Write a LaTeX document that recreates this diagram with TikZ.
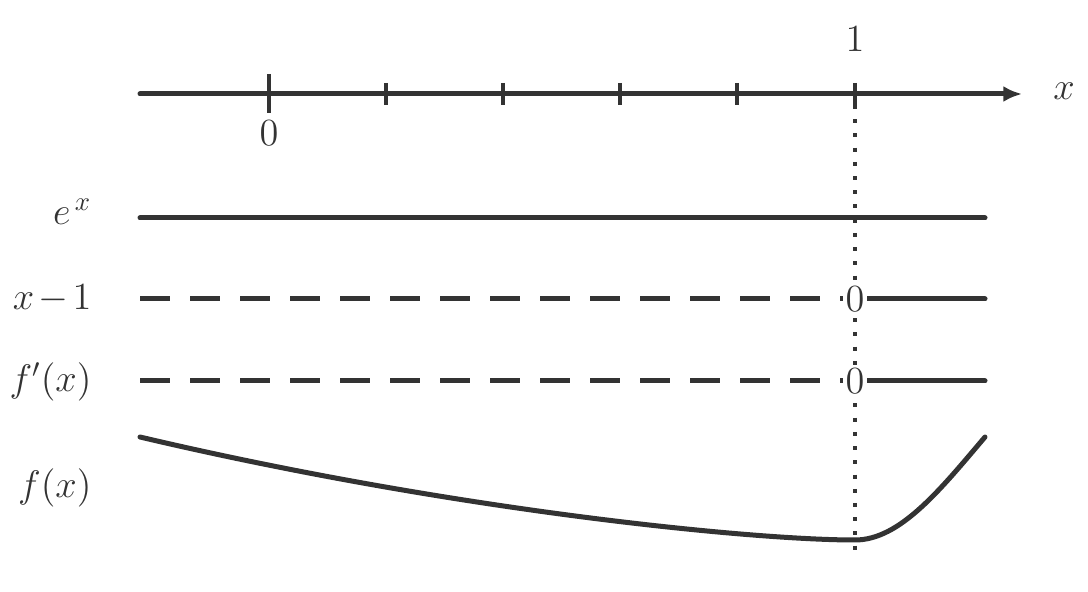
\documentclass[tikz,border=0pt]{standalone}
\usetikzlibrary{arrows.meta}
\definecolor{ink}{RGB}{51,51,51}
\begin{document}
\begin{tikzpicture}[x=0.375pt,y=-0.375pt,
  every node/.style={text=ink,font=\fontsize{14}{17}\selectfont},
  thick line/.style={draw=ink,line width=1.875pt,line cap=round},
  dash line/.style={draw=ink,line width=1.875pt,line cap=butt,dash pattern=on 11.25pt off 7.5pt},
  tickmark/.style={draw=ink,line width=1.8pt,line cap=butt},
  dot line/.style={draw=ink,line width=1.5pt,line cap=butt,dash pattern=on 1.5pt off 3.83pt},
  zero/.style={fill=white,inner xsep=1pt,inner ysep=0.5pt},
  lab/.style={anchor=east,inner sep=0pt}]
\useasboundingbox (0,0) rectangle (1088,592);
% axis
\coordinate (axL) at (140,94);
\coordinate (axR) at (1022,94);
\coordinate (d1) at (855,105);
\coordinate (d2) at (855,550);
\draw[dot line] (d1) -- (d2);
\draw[thick line,-{Latex[length=7pt,width=6pt]}] (axL) -- (axR);
\coordinate (t0a) at (269,74); \coordinate (t0b) at (269,113);
\draw[tickmark] (t0a) -- (t0b);
\foreach \xx in {386,503,620,737,855}{
  \draw[tickmark] (\xx,83) -- (\xx,105);
}
\node (l0) at (269,133) {$0$};
\node (l1) at (855,39) {$1$};
\node (lx) at (1064,91) {$x$};
% row labels
\node[lab] (rE) at (92,212) {$e^{\,x}$};
\node[lab] (rA) at (92,299) {$x\mkern2mu{-}\mkern2mu1$};
\node[lab] (rB) at (92,382) {$f'(x)$};
\node[lab] (rC) at (92,488) {$f(x)$};
% e^x line
\coordinate (eL) at (140,218); \coordinate (eR) at (985,218);
\draw[thick line] (eL) -- (eR);
% x-1 line
\coordinate (aL) at (140,299); \coordinate (aM) at (855,299); \coordinate (aR) at (985,299);
\draw[dash line] (aL) -- (aM);
\draw[thick line] (aM) -- (aR);
\node[zero] (zA) at (aM) {$0$};
% f'(x) line
\coordinate (bL) at (140,381); \coordinate (bM) at (855,381); \coordinate (bR) at (985,381);
\draw[dash line] (bL) -- (bM);
\draw[thick line] (bM) -- (bR);
\node[zero] (zB) at (bM) {$0$};
% f(x) curve
\coordinate (cL) at (140,437); \coordinate (cM) at (855,540); \coordinate (cR) at (985,437);
\draw[thick line] (cL) .. controls (450,510) and (750,540) .. (cM)
  .. controls (900,540) and (940,490) .. (cR);
\end{tikzpicture}
\end{document}
